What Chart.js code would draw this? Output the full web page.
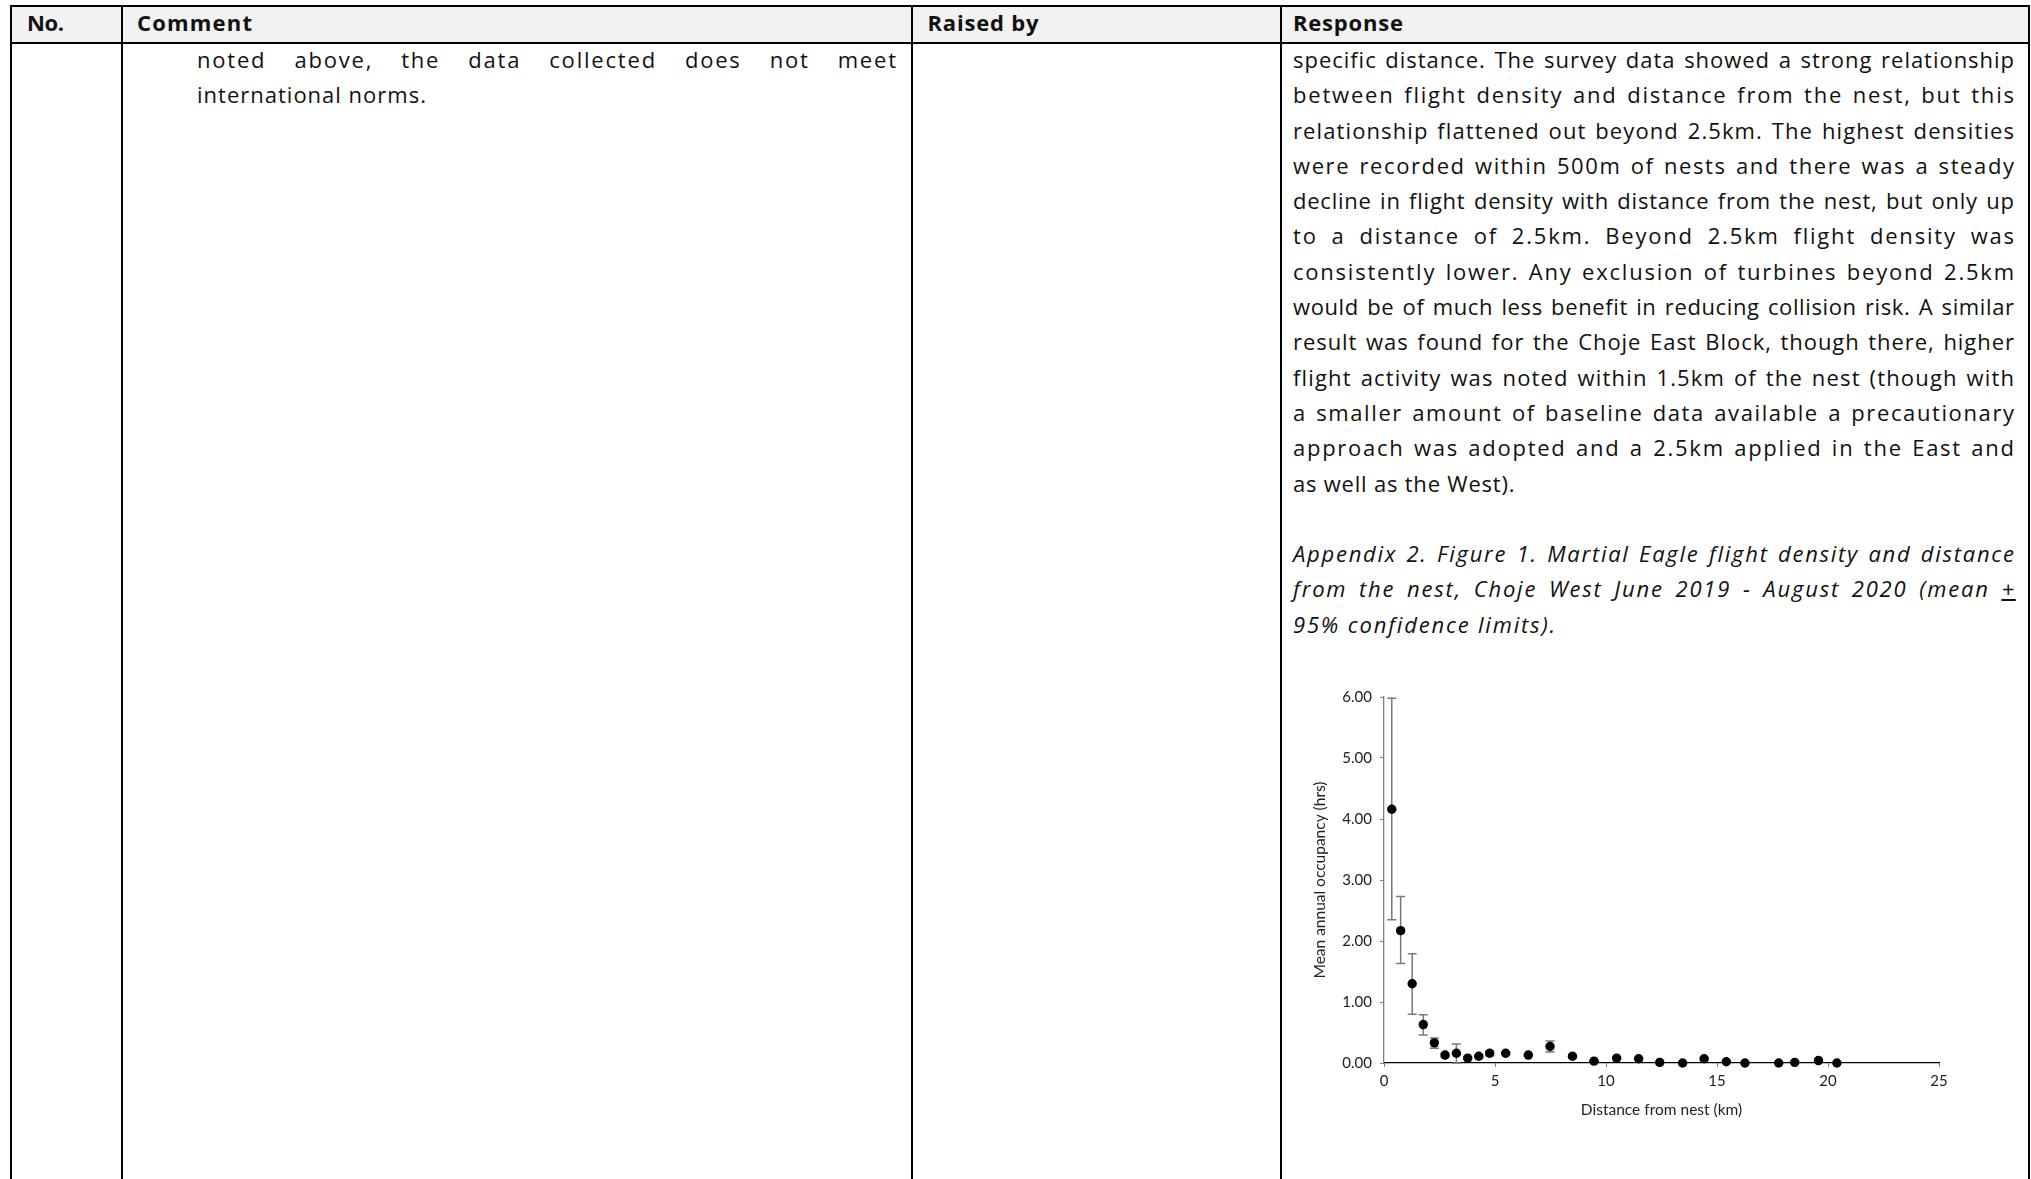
<!DOCTYPE html>
<html><head><meta charset="utf-8">
<script src="https://cdn.jsdelivr.net/npm/chart.js@4.4.1/dist/chart.umd.min.js"></script>
<style>
html,body{margin:0;padding:0;background:#fff;width:2031px;height:1179px;overflow:hidden;position:relative;}
.b{position:absolute;background:#000;}
.hdr{position:absolute;background:#f2f2f2;}
.t{position:absolute;white-space:pre;font-family:"Open Sans",sans-serif;font-size:22px;line-height:35.3px;color:#111;display:inline-block;}
.h{font-weight:700;font-size:22px;}
.i{font-style:italic;}
#chartBox{position:absolute;left:1300px;top:680px;width:660px;height:450px;}
#chartBox canvas{display:block;}
</style></head><body>

<div class="hdr" style="left:12px;top:7px;width:2016px;height:35px"></div>
<div class="b" style="left:10px;top:5px;width:2020px;height:2px"></div>
<div class="b" style="left:10px;top:42px;width:2020px;height:2px"></div>
<div class="b" style="left:10px;top:5px;width:2px;height:1174px"></div>
<div class="b" style="left:121px;top:5px;width:2px;height:1174px"></div>
<div class="b" style="left:911px;top:5px;width:2px;height:1174px"></div>
<div class="b" style="left:1280px;top:5px;width:2px;height:1174px"></div>
<div class="b" style="left:2028px;top:5px;width:2px;height:1174px"></div>

<div id="texts"></div>
<div id="chartBox"><canvas id="c" width="660" height="450"></canvas></div>

<script>
// ---- chart data ----
const distanceKm    = [0.35, 0.75, 1.27, 1.77, 2.27, 2.75, 3.26, 3.77, 4.27, 4.76, 5.48, 6.50, 7.48, 8.49, 9.46, 10.48, 11.47, 12.42, 13.45, 14.42, 15.42, 16.26, 17.78, 18.50, 19.57, 20.40];
const meanOccupancy = [4.16, 2.17, 1.30, 0.63, 0.33, 0.13, 0.16, 0.08, 0.11, 0.16, 0.16, 0.13, 0.27, 0.11, 0.03, 0.08, 0.07, 0.01, 0.00, 0.07, 0.02, 0.00, 0.00, 0.01, 0.04, 0.00];
const upperCL       = [5.98, 2.73, 1.79, 0.79, 0.41, 0.16, 0.31, 0.10, 0.13, 0.20, 0.18, 0.15, 0.36, 0.14, 0.04, 0.10, 0.09, 0.02, 0.01, 0.09, 0.03, 0.01, 0.01, 0.02, 0.06, 0.01];
const lowerCL       = [2.35, 1.63, 0.80, 0.46, 0.24, 0.10, 0.00, 0.06, 0.09, 0.12, 0.14, 0.11, 0.18, 0.08, 0.02, 0.06, 0.05, 0.00, 0.00, 0.05, 0.01, 0.00, 0.00, 0.00, 0.02, 0.00];
const xTickValues   = [0, 5, 10, 15, 20, 25];
const yTickValues   = [0, 1, 2, 3, 4, 5, 6];
const xTitle = 'Distance from nest (km)';
const yTitle = 'Mean annual occupancy (hrs)';

// ---- document text ----
const P = 35.3, Y0 = 59.6, LSMAX = 1.8, GAP0 = 2;
const lines = [
  // [html, x, centerY, targetWidth, mode, classes]
  ['No.', 27, 23, 37, 'l', 'h'],
  ['Comment', 137, 23, 115, 'l', 'h'],
  ['Raised by', 927.5, 23, 111, 'l', 'h'],
  ['Response', 1293, 23, 110, 'l', 'h'],
  ['noted above, the data collected does not meet', 197, Y0, 699, 'j', ''],
  ['international norms.', 197, Y0+P, 229, 'l', ''],
];
const resp = [
  'specific distance. The survey data showed a strong relationship',
  'between flight density and distance from the nest, but this',
  'relationship flattened out beyond 2.5km. The highest densities',
  'were recorded within 500m of nests and there was a steady',
  'decline in flight density with distance from the nest, but only up',
  'to a distance of 2.5km. Beyond 2.5km flight density was',
  'consistently lower. Any exclusion of turbines beyond 2.5km',
  'would be of much less benefit in reducing collision risk. A similar',
  'result was found for the Choje East Block, though there, higher',
  'flight activity was noted within 1.5km of the nest (though with',
  'a smaller amount of baseline data available a precautionary',
  'approach was adopted and a 2.5km applied in the East and'
];
resp.forEach((s,k)=>lines.push([s,1293,Y0+k*P,721,'j','']));
lines.push(['as well as the West).',1293,Y0+12*P,221.5,'l','']);
lines.push(['Appendix 2. Figure 1. Martial Eagle flight density and distance',1293,Y0+14*P,721,'j','i']);
lines.push(['from the nest, Choje West June 2019 - August 2020 (mean <u>+</u>',1293,Y0+15*P,721,'j','i']);
lines.push(['95% confidence limits).',1293,Y0+16*P,262,'l','i']);

const host = document.getElementById('texts');
lines.forEach(([html,x,cy,tw,mode,cls])=>{
  const el = document.createElement('div');
  el.className = 't ' + cls;
  el.innerHTML = html;
  el.style.left = x + 'px';
  el.style.top = (cy - P/2) + 'px';
  el.style.letterSpacing = '0px';
  host.appendChild(el);
  const txt = el.textContent;
  const w = el.getBoundingClientRect().width;
  if (mode === 'j') {
    const n = (txt.match(/ /g) || []).length;
    const len = txt.length - 1;
    let ls = (tw - w - n * GAP0) / len;
    ls = Math.max(0, Math.min(LSMAX, ls));
    el.style.letterSpacing = ls + 'px';
    const w2 = el.getBoundingClientRect().width - ls;
    if (n) el.style.wordSpacing = ((tw - w2) / n) + 'px';
  } else {
    el.style.letterSpacing = ((tw - w) / Math.max(1, txt.length - 1)) + 'px';
  }
});

// ---- chart ----
const errorBars = {
  id: 'errorBars',
  beforeDatasetsDraw(chart) {
    const {ctx, scales: {x, y}} = chart;
    ctx.save();
    ctx.strokeStyle = '#7a7a7a';
    ctx.lineWidth = 1.5;
    distanceKm.forEach((d, i) => {
      const px = x.getPixelForValue(d);
      const yt = y.getPixelForValue(upperCL[i]);
      const yb = y.getPixelForValue(lowerCL[i]);
      ctx.beginPath();
      ctx.moveTo(px, yt); ctx.lineTo(px, yb);
      ctx.moveTo(px - 4.5, yt); ctx.lineTo(px + 4.5, yt);
      ctx.moveTo(px - 4.5, yb); ctx.lineTo(px + 4.5, yb);
      ctx.stroke();
    });
    ctx.restore();
  }
};

const tickFont = {family: 'Lato', size: 15};
const titleFont = {family: 'Lato', size: 15.5};
new Chart(document.getElementById('c'), {
  type: 'scatter',
  data: {
    datasets: [{
      data: distanceKm.map((d, i) => ({x: d, y: meanOccupancy[i]})),
      pointRadius: 4.7,
      pointBackgroundColor: '#000',
      pointBorderColor: '#000',
      pointBorderWidth: 0,
      showLine: false,
      clip: false
    }]
  },
  options: {
    responsive: false,
    animation: false,
    devicePixelRatio: 1,
    layout: {padding: {top: 12, right: 21, bottom: 0, left: 0}},
    plugins: {legend: {display: false}, tooltip: {enabled: false}},
    scales: {
      x: {
        type: 'linear', min: 0, max: 25,
        afterBuildTicks: s => { s.ticks = xTickValues.map(v => ({value: v})); },
        grid: {drawOnChartArea: false, drawTicks: true, tickLength: 4, color: '#808080'},
        border: {display: true, color: '#000', width: 1.3},
        ticks: {font: tickFont, color: '#222', padding: 5, maxRotation: 0, autoSkip: false},
        title: {display: true, text: xTitle, font: titleFont, color: '#222', padding: {top: 0, bottom: 10.7}},
        afterFit: s => { s.height = 67; }
      },
      y: {
        type: 'linear', min: 0, max: 6,
        afterBuildTicks: s => { s.ticks = yTickValues.map(v => ({value: v})); },
        grid: {drawOnChartArea: false, drawTicks: true, tickLength: 4, color: '#808080'},
        border: {display: true, color: '#808080', width: 1.3},
        ticks: {font: tickFont, color: '#222', padding: 8, callback: v => Number(v).toFixed(2)},
        title: {display: true, text: yTitle, font: titleFont, color: '#222', padding: {top: 10.7, bottom: 0}},
        afterFit: s => { s.width = 84; }
      }
    }
  },
  plugins: [errorBars]
});
</script>
</body></html>
